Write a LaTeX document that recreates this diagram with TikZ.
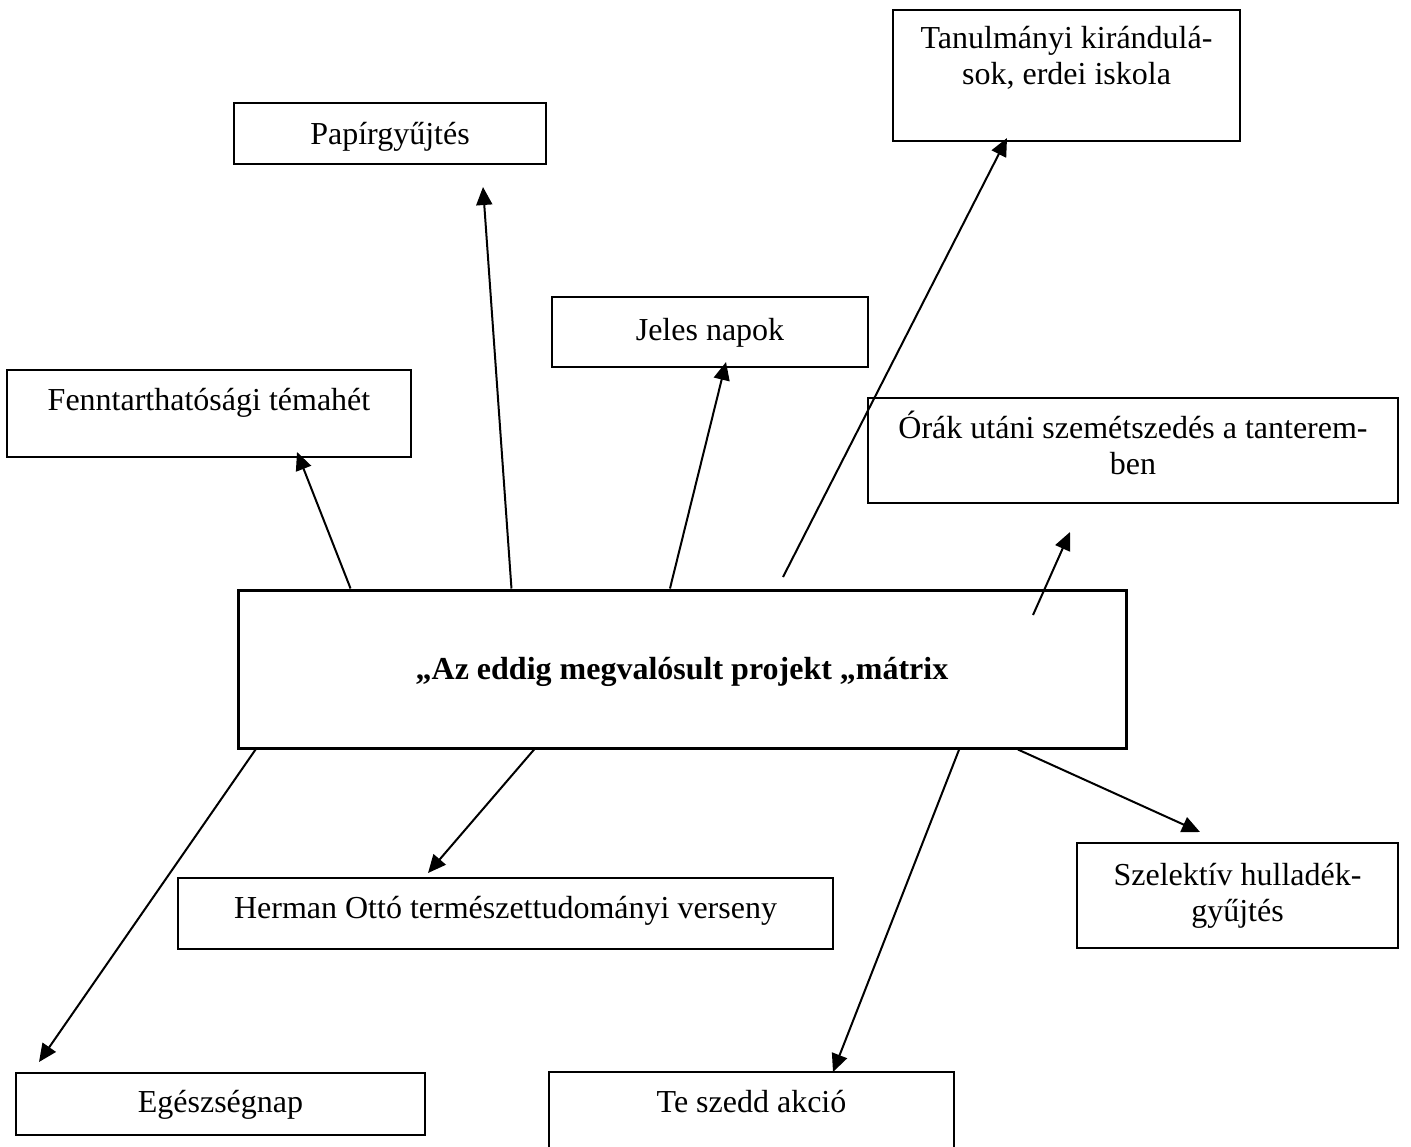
\documentclass[tikz,border=0pt]{standalone}
\usepackage{fontspec}
\setmainfont{Liberation Serif}
\usetikzlibrary{arrows.meta}
\usetikzlibrary{calc}

\begin{document}
\begin{tikzpicture}[x=0.5pt,y=-0.5pt,
  box/.style={draw,line width=1pt,inner sep=0pt,align=center,font=\fontsize{16}{18}\selectfont},
  oneline/.style={text height=11.5pt,text depth=3.5pt},
  arr/.style={line width=1pt,-{Triangle[length=9pt,width=8pt]}}]
\useasboundingbox (0,0) rectangle (1411,1146);
\clip (0,0) rectangle (1411,1146);
%% boxes
\node[box,oneline,minimum width=156pt,minimum height=30.5pt,text depth=1pt] (papir) at (390,133.5) {Papírgyűjtés};
\node[box,minimum width=173.5pt,minimum height=65.5pt] (kirandulas) at (1066.5,75.5) {Tanulmányi kirándulá-\\sok, erdei iskola\\[2pt]\mbox{}};
\node[box,oneline,minimum width=158pt,minimum height=35pt] (jeles) at (710,332) {Jeles napok};
\node[box,oneline,minimum width=202pt,minimum height=43.5pt,text depth=15pt] (fenn) at (209,413.5) {Fenntarthatósági témahét};
\node[box,minimum width=265pt,minimum height=52.5pt] (orak) at (1133,450.5) {Órák utáni szemétszedés a tanterem-\\ben\\[-10pt]\mbox{}};
\node[box,oneline,line width=1.5pt,minimum width=444pt,minimum height=79pt,text depth=1pt,font=\fontsize{16}{18}\selectfont\bfseries] (main) at (682,669) {„Az eddig megvalósult projekt „mátrix};
\node[box,oneline,minimum width=327.5pt,minimum height=35.5pt,text depth=7pt] (herman) at (505.5,913.5) {Herman Ottó természettudományi verseny};
\node[box,minimum width=160.5pt,minimum height=52.5pt] (szelektiv) at (1237.5,895.5) {Szelektív hulladék-\\gyűjtés};
\node[box,oneline,minimum width=204.5pt,minimum height=31pt] (egeszseg) at (220.5,1104) {Egészségnap};
\node[box,oneline,minimum width=202.5pt,minimum height=44pt,text depth=15.5pt] (teszedd) at (751.5,1116) {Te szedd akció};

%% free ends of the arrows
\coordinate (fennTip) at (297,452);
\coordinate (papirTip) at (483,187);
\coordinate (jelesTip) at (726,362);
\coordinate (kirTail) at (783,577);
\coordinate (kirTip) at (1007,138);
\coordinate (orakTail) at (1033,615);
\coordinate (orakTip) at (1070,532);
\coordinate (egeszTip) at (39,1062);
\coordinate (hermanTip) at (428,873);
\coordinate (teTip) at (833,1072);
\coordinate (szelTip) at (1200,832);

\foreach \f/\t in {0.128/fennTip, 0.3086/papirTip, 0.4865/jelesTip}
    \draw[arr] ($(main.north west)!\f!(main.north east)$) -- (\t);
\foreach \f/\t in {0.0214/egeszTip, 0.334/hermanTip, 0.811/teTip, 0.877/szelTip}
    \draw[arr] ($(main.south west)!\f!(main.south east)$) -- (\t);
\draw[arr] (kirTail) -- (kirTip);
\draw[arr] (orakTail) -- (orakTip);
\end{tikzpicture}
\end{document}
